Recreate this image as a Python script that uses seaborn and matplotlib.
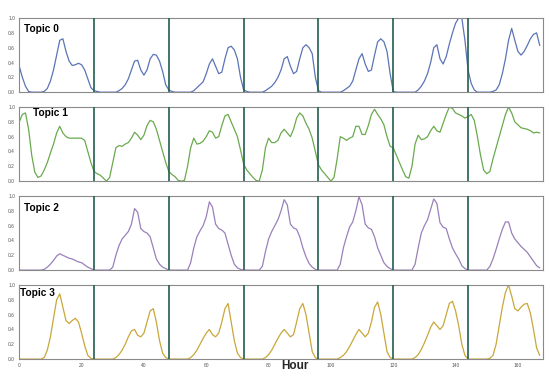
import numpy as np
import pandas as pd
import matplotlib; matplotlib.use("Agg")
import matplotlib.pyplot as plt
import seaborn as sns

# hourly profile of each topic over one week
hours = list(range(168))

topic0 = [
    0.35, 0.20, 0.08, 0.01, 0.00, 0.00, 0.00, 0.00, 0.01, 0.05, 0.15, 0.30,
    0.50, 0.70, 0.72, 0.55, 0.42, 0.36, 0.37, 0.39, 0.37, 0.30, 0.18, 0.06,
    0.02, 0.01, 0.00, 0.00, 0.00, 0.00, 0.00, 0.00, 0.02, 0.05, 0.10, 0.18,
    0.30, 0.42, 0.43, 0.30, 0.23, 0.30, 0.45, 0.51, 0.50, 0.42, 0.28, 0.10,
    0.03, 0.01, 0.00, 0.00, 0.00, 0.00, 0.00, 0.00, 0.02, 0.06, 0.10, 0.14,
    0.25, 0.38, 0.45, 0.35, 0.25, 0.27, 0.45, 0.60, 0.62, 0.57, 0.45, 0.20,
    0.03, 0.01, 0.00, 0.00, 0.00, 0.00, 0.00, 0.02, 0.05, 0.08, 0.13, 0.20,
    0.30, 0.45, 0.48, 0.35, 0.25, 0.28, 0.45, 0.60, 0.64, 0.60, 0.52, 0.20,
    0.02, 0.00, 0.00, 0.00, 0.00, 0.00, 0.00, 0.00, 0.02, 0.05, 0.08, 0.15,
    0.30, 0.45, 0.52, 0.38, 0.28, 0.30, 0.50, 0.68, 0.72, 0.68, 0.55, 0.25,
    0.01, 0.00, 0.00, 0.00, 0.00, 0.00, 0.00, 0.00, 0.03, 0.08, 0.15, 0.25,
    0.40, 0.60, 0.64, 0.45, 0.38, 0.48, 0.65, 0.80, 0.93, 1.00, 1.00, 0.70,
    0.30, 0.12, 0.03, 0.00, 0.00, 0.00, 0.00, 0.00, 0.01, 0.03, 0.10, 0.25,
    0.45, 0.70, 0.86, 0.70, 0.55, 0.50, 0.55, 0.63, 0.72, 0.78, 0.80, 0.63,
]

topic1 = [
    0.80, 0.90, 0.92, 0.70, 0.35, 0.12, 0.05, 0.07, 0.15, 0.25, 0.38, 0.50,
    0.65, 0.74, 0.65, 0.60, 0.58, 0.58, 0.58, 0.58, 0.58, 0.55, 0.40, 0.25,
    0.13, 0.10, 0.08, 0.04, 0.00, 0.05, 0.25, 0.45, 0.48, 0.47, 0.50, 0.52,
    0.58, 0.66, 0.62, 0.56, 0.62, 0.75, 0.82, 0.80, 0.70, 0.55, 0.40, 0.25,
    0.13, 0.09, 0.06, 0.01, 0.00, 0.01, 0.20, 0.45, 0.58, 0.50, 0.51, 0.54,
    0.60, 0.68, 0.66, 0.58, 0.60, 0.75, 0.88, 0.90, 0.80, 0.70, 0.60, 0.42,
    0.23, 0.15, 0.10, 0.05, 0.01, 0.00, 0.15, 0.45, 0.58, 0.52, 0.52, 0.55,
    0.65, 0.70, 0.65, 0.60, 0.70, 0.85, 0.92, 0.88, 0.78, 0.70, 0.58, 0.40,
    0.22, 0.15, 0.10, 0.05, 0.00, 0.05, 0.30, 0.60, 0.58, 0.55, 0.58, 0.60,
    0.74, 0.74, 0.63, 0.63, 0.75, 0.90, 0.97, 0.90, 0.84, 0.76, 0.60, 0.47,
    0.45, 0.35, 0.25, 0.15, 0.06, 0.04, 0.20, 0.50, 0.62, 0.56, 0.57, 0.60,
    0.68, 0.74, 0.68, 0.66, 0.78, 0.90, 1.00, 0.98, 0.92, 0.90, 0.88, 0.85,
    0.87, 0.90, 0.82, 0.60, 0.35, 0.15, 0.10, 0.13, 0.30, 0.45, 0.60, 0.75,
    0.90, 1.00, 0.92, 0.80, 0.76, 0.72, 0.71, 0.70, 0.68, 0.65, 0.66, 0.65,
]

topic2 = [
    0.00, 0.00, 0.00, 0.00, 0.00, 0.00, 0.00, 0.00, 0.01, 0.04, 0.08, 0.13,
    0.19, 0.22, 0.20, 0.18, 0.16, 0.15, 0.13, 0.11, 0.10, 0.07, 0.04, 0.02,
    0.00, 0.00, 0.00, 0.00, 0.00, 0.00, 0.04, 0.20, 0.33, 0.42, 0.47, 0.52,
    0.62, 0.83, 0.78, 0.56, 0.52, 0.50, 0.45, 0.30, 0.15, 0.08, 0.04, 0.02,
    0.00, 0.00, 0.00, 0.00, 0.00, 0.00, 0.00, 0.10, 0.30, 0.45, 0.53, 0.60,
    0.72, 0.92, 0.85, 0.62, 0.56, 0.54, 0.50, 0.35, 0.20, 0.08, 0.03, 0.01,
    0.00, 0.00, 0.00, 0.00, 0.00, 0.00, 0.05, 0.25, 0.42, 0.52, 0.60, 0.68,
    0.80, 0.95, 0.88, 0.62, 0.57, 0.55, 0.45, 0.30, 0.18, 0.09, 0.04, 0.01,
    0.00, 0.00, 0.00, 0.00, 0.00, 0.00, 0.00, 0.08, 0.30, 0.45, 0.58, 0.65,
    0.80, 0.99, 0.88, 0.62, 0.57, 0.55, 0.45, 0.30, 0.20, 0.10, 0.05, 0.02,
    0.00, 0.00, 0.00, 0.00, 0.00, 0.00, 0.00, 0.08, 0.30, 0.50, 0.60, 0.68,
    0.82, 0.96, 0.90, 0.64, 0.58, 0.56, 0.42, 0.30, 0.22, 0.15, 0.06, 0.02,
    0.00, 0.00, 0.00, 0.00, 0.00, 0.00, 0.00, 0.05, 0.15, 0.28, 0.42, 0.55,
    0.65, 0.65, 0.50, 0.42, 0.37, 0.32, 0.28, 0.24, 0.18, 0.12, 0.06, 0.03,
]

topic3 = [
    0.00, 0.00, 0.00, 0.00, 0.00, 0.00, 0.00, 0.00, 0.02, 0.12, 0.30, 0.55,
    0.80, 0.88, 0.70, 0.52, 0.48, 0.52, 0.55, 0.50, 0.35, 0.18, 0.05, 0.01,
    0.00, 0.00, 0.00, 0.00, 0.00, 0.00, 0.00, 0.02, 0.06, 0.12, 0.20, 0.30,
    0.38, 0.40, 0.32, 0.30, 0.35, 0.50, 0.65, 0.68, 0.50, 0.25, 0.08, 0.02,
    0.00, 0.00, 0.00, 0.00, 0.00, 0.00, 0.00, 0.02, 0.06, 0.12, 0.20, 0.28,
    0.35, 0.40, 0.33, 0.30, 0.35, 0.50, 0.68, 0.75, 0.50, 0.25, 0.08, 0.02,
    0.00, 0.00, 0.00, 0.00, 0.00, 0.00, 0.00, 0.02, 0.06, 0.12, 0.20, 0.28,
    0.35, 0.40, 0.35, 0.30, 0.33, 0.50, 0.68, 0.75, 0.60, 0.35, 0.10, 0.02,
    0.00, 0.00, 0.00, 0.00, 0.00, 0.00, 0.00, 0.02, 0.05, 0.10, 0.17, 0.25,
    0.33, 0.40, 0.35, 0.30, 0.35, 0.50, 0.70, 0.77, 0.60, 0.35, 0.10, 0.02,
    0.00, 0.00, 0.00, 0.00, 0.00, 0.00, 0.00, 0.02, 0.06, 0.13, 0.22, 0.32,
    0.43, 0.50, 0.45, 0.40, 0.45, 0.60, 0.75, 0.78, 0.65, 0.45, 0.20, 0.05,
    0.00, 0.00, 0.00, 0.00, 0.00, 0.00, 0.00, 0.01, 0.05, 0.20, 0.45, 0.70,
    0.90, 1.00, 0.85, 0.68, 0.65, 0.70, 0.74, 0.75, 0.62, 0.40, 0.15, 0.05,
]

topics = [topic0, topic1, topic2, topic3]
names = ["Topic 0", "Topic 1", "Topic 2", "Topic 3"]
colors = ["#5b74b6", "#6aaa4e", "#9a80bb", "#c9a73a"]
day_marks = [24, 48, 72, 96, 120, 144]
xticks = [0, 20, 40, 60, 80, 100, 120, 140, 160]
yticks = [0.0, 0.2, 0.4, 0.6, 0.8, 1.0]

# label positions inside each panel (axes fraction)
label_pos = [(0.009, 0.92), (0.026, 0.985), (0.010, 0.905), (0.002, 0.96)]

sns.set_style("white")
plt.rcParams["font.family"] = ["Liberation Sans", "DejaVu Sans"]

fig, axes = plt.subplots(4, 1, figsize=(5.5, 3.76), dpi=100, sharex=True)
fig.subplots_adjust(left=0.035, right=0.987, bottom=0.045, top=0.952, hspace=0.2)

for ax, vals, name, col, (lx, ly) in zip(axes, topics, names, colors, label_pos):
    df = pd.DataFrame({"hour": hours, "value": vals})
    sns.lineplot(data=df, x="hour", y="value", ax=ax, color=col, lw=0.9)
    for d in day_marks:
        ax.axvline(d, color="#235e50", lw=1.2, zorder=3)
    ax.set_xlim(0, 168)
    ax.set_ylim(0, 1.0)
    ax.set_yticks(yticks)
    ax.set_yticklabels([f"{t:.1f}" for t in yticks])
    ax.set_xticks(xticks)
    ax.set_xlabel("")
    ax.set_ylabel("")
    ax.tick_params(axis="both", length=0, labelsize=3.5, colors="#555555", pad=3)
    for s in ax.spines.values():
        s.set_color("#8a8a8a")
        s.set_linewidth(0.8)
    ax.text(lx, ly, name, transform=ax.transAxes, ha="left", va="top",
            fontsize=7.3, fontweight="bold", color="black")

fig.text(295 / 550, 1 - 366 / 376, "Hour", ha="center", va="center",
         fontsize=8.5, fontweight="bold")

plt.savefig("out.png", dpi=100)
plt.close()
